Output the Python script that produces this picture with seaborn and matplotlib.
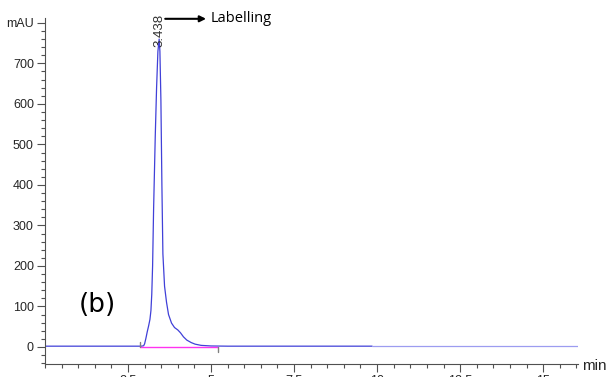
import numpy as np
import pandas as pd
import matplotlib
matplotlib.use("Agg")
import matplotlib.pyplot as plt
from matplotlib.ticker import MultipleLocator, FixedLocator, FixedFormatter
import seaborn as sns

# Chromatogram trace (retention time in min, absorbance in mAU)
time_min = [0.0, 2.90, 2.97, 3.00, 3.04, 3.08, 3.12, 3.16, 3.19, 3.215, 3.24, 3.27,
            3.32, 3.36, 3.40, 3.438, 3.46, 3.49, 3.52, 3.55, 3.60, 3.66, 3.72,
            3.81, 3.90, 4.00, 4.08, 4.17, 4.27, 4.40, 4.52, 4.70, 5.00, 5.50, 9.85]
signal_mau = [2.0, 2.0, 3.0, 8.0, 22.0, 38.0, 52.0, 68.0, 90.0, 130.0, 200.0, 340.0,
              520.0, 640.0, 730.0, 760.0, 730.0, 610.0, 400.0, 230.0, 150.0, 110.0, 80.0,
              59.0, 48.0, 42.0, 35.0, 25.0, 17.0, 11.0, 7.0, 4.0, 2.5, 2.0, 2.0]
# Trace continuation after the detector segment change
tail_time = [9.85, 16.05]
tail_signal = [2.0, 2.0]

# Integration baseline of the peak
base_time = [2.86, 5.20]
base_signal = [1.0, 1.0]

peak_time = 3.438
peak_label = "3.438"

y_ticks = [0, 100, 200, 300, 400, 500, 600, 700, 800]
y_labels = ["0", "100", "200", "300", "400", "500", "600", "700", "mAU"]
x_ticks = [2.5, 5, 7.5, 10, 12.5, 15]
x_labels = ["2.5", "5", "7.5", "10", "12.5", "15"]

sns.set_style("ticks")
plt.rcParams["font.family"] = ["Liberation Sans", "DejaVu Sans"]

fig = plt.figure(figsize=(6.08, 3.77), dpi=100)
ax = fig.add_axes([45 / 608, 13 / 377, (578 - 45) / 608, (364 - 18) / 377])

trace = pd.DataFrame({"t": time_min, "s": signal_mau})
tail = pd.DataFrame({"t": tail_time, "s": tail_signal})
base = pd.DataFrame({"t": base_time, "s": base_signal})

sns.lineplot(data=trace, x="t", y="s", ax=ax, color="#4040d8", lw=0.9, sort=False)
sns.lineplot(data=tail, x="t", y="s", ax=ax, color="#9c9cf0", lw=0.9, sort=False)
sns.lineplot(data=base, x="t", y="s", ax=ax, color="#ff33f0", lw=1.0, sort=False,
             zorder=4)

# integration start/end markers
ax.plot([base_time[0], base_time[0]], [1.0, 12], color="#808080", lw=1.0, zorder=5)
ax.plot([base_time[1], base_time[1]], [1.0, -12], color="#808080", lw=1.0, zorder=5)

ax.set_xlim(0, 16.05)
ax.set_ylim(-42, 812)

ax.xaxis.set_major_locator(FixedLocator(x_ticks))
ax.xaxis.set_major_formatter(FixedFormatter(x_labels))
ax.xaxis.set_minor_locator(MultipleLocator(0.5))
ax.yaxis.set_major_locator(FixedLocator(y_ticks))
ax.yaxis.set_major_formatter(FixedFormatter(y_labels))
ax.yaxis.set_minor_locator(MultipleLocator(20))

ax.tick_params(axis="both", which="major", length=6, width=0.8, color="#505050",
               labelsize=9, labelcolor="#262626", pad=2)
ax.tick_params(axis="both", which="minor", length=3, width=0.8, color="#505050")
ax.set_xlabel("")
ax.set_ylabel("")
sns.despine(ax=ax)
for side in ("left", "bottom"):
    ax.spines[side].set_color("#505050")
    ax.spines[side].set_linewidth(0.8)

ax.text(1.008, -0.005, "min", transform=ax.transAxes, ha="left", va="center",
        fontsize=11, color="#262626", clip_on=False)

ax.text(peak_time, 740, peak_label, rotation=90, ha="center", va="bottom",
        fontsize=9.5, color="#303030", clip_on=False)

ax.annotate("", xy=(4.85, 810), xytext=(3.62, 810),
            arrowprops=dict(arrowstyle="-|>", color="black", lw=1.5,
                            mutation_scale=9, shrinkA=0, shrinkB=0),
            annotation_clip=False)
ax.text(5.0, 810, "Labelling", ha="left", va="center", fontsize=10.5,
        family=["Open Sans", "DejaVu Sans"], color="black", clip_on=False)

ax.text(1.57, 104, "(b)", ha="center", va="center", fontsize=19,
        family=["DejaVu Sans"], color="black")

fig.savefig("out.png", dpi=100)
